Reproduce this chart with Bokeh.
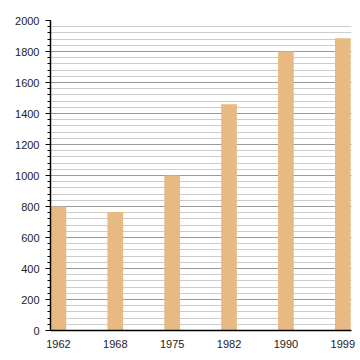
from bokeh.plotting import figure
from bokeh.models import Range1d, FixedTicker, SingleIntervalTicker, ColumnDataSource
from bokeh.embed import file_html
from bokeh.resources import INLINE

years = ["1962", "1968", "1975", "1982", "1990", "1999"]
values = [800, 765, 1000, 1460, 1800, 1885]

xs = list(range(len(years)))
src = ColumnDataSource(dict(x=xs, top=values))

p = figure(width=360, height=360, output_backend="svg", toolbar_location=None,
           x_range=Range1d(-0.139, 5.153), y_range=Range1d(0, 2000),
           min_border_left=50, min_border_right=9, min_border_top=20, min_border_bottom=30)
p.outline_line_color = None
p.background_fill_color = "white"
p.border_fill_color = "white"

p.vbar(x="x", top="top", width=0.276, bottom=0, source=src,
       fill_color="#E8BA83", line_color=None)

p.xaxis.ticker = FixedTicker(ticks=xs)
p.xaxis.major_label_overrides = {i: y for i, y in enumerate(years)}
p.xaxis.major_tick_line_color = None
p.xaxis.minor_tick_line_color = None
p.xaxis.axis_line_color = "black"
p.xaxis.axis_line_width = 1.5
p.xaxis.major_label_standoff = 3

p.yaxis.ticker = SingleIntervalTicker(interval=200, num_minor_ticks=5)
p.yaxis.major_tick_out = 5
p.yaxis.major_tick_in = 0
p.yaxis.minor_tick_out = 3
p.yaxis.minor_tick_in = 0
p.yaxis.axis_line_color = "black"
p.yaxis.axis_line_width = 1.5
p.yaxis.major_tick_line_color = "black"
p.yaxis.minor_tick_line_color = "black"
p.yaxis.major_label_standoff = 6

for ax in (p.xaxis, p.yaxis):
    ax.major_label_text_font = "Liberation Sans"
    ax.major_label_text_font_size = "11px"
    ax.major_label_text_color = "#222222"

p.xgrid.grid_line_color = None
p.ygrid.grid_line_color = "#9a9a9a"
p.ygrid.minor_grid_line_color = "#cccccc"
p.ygrid.level = "underlay"

open("out.html", "w").write(file_html(p, INLINE))
